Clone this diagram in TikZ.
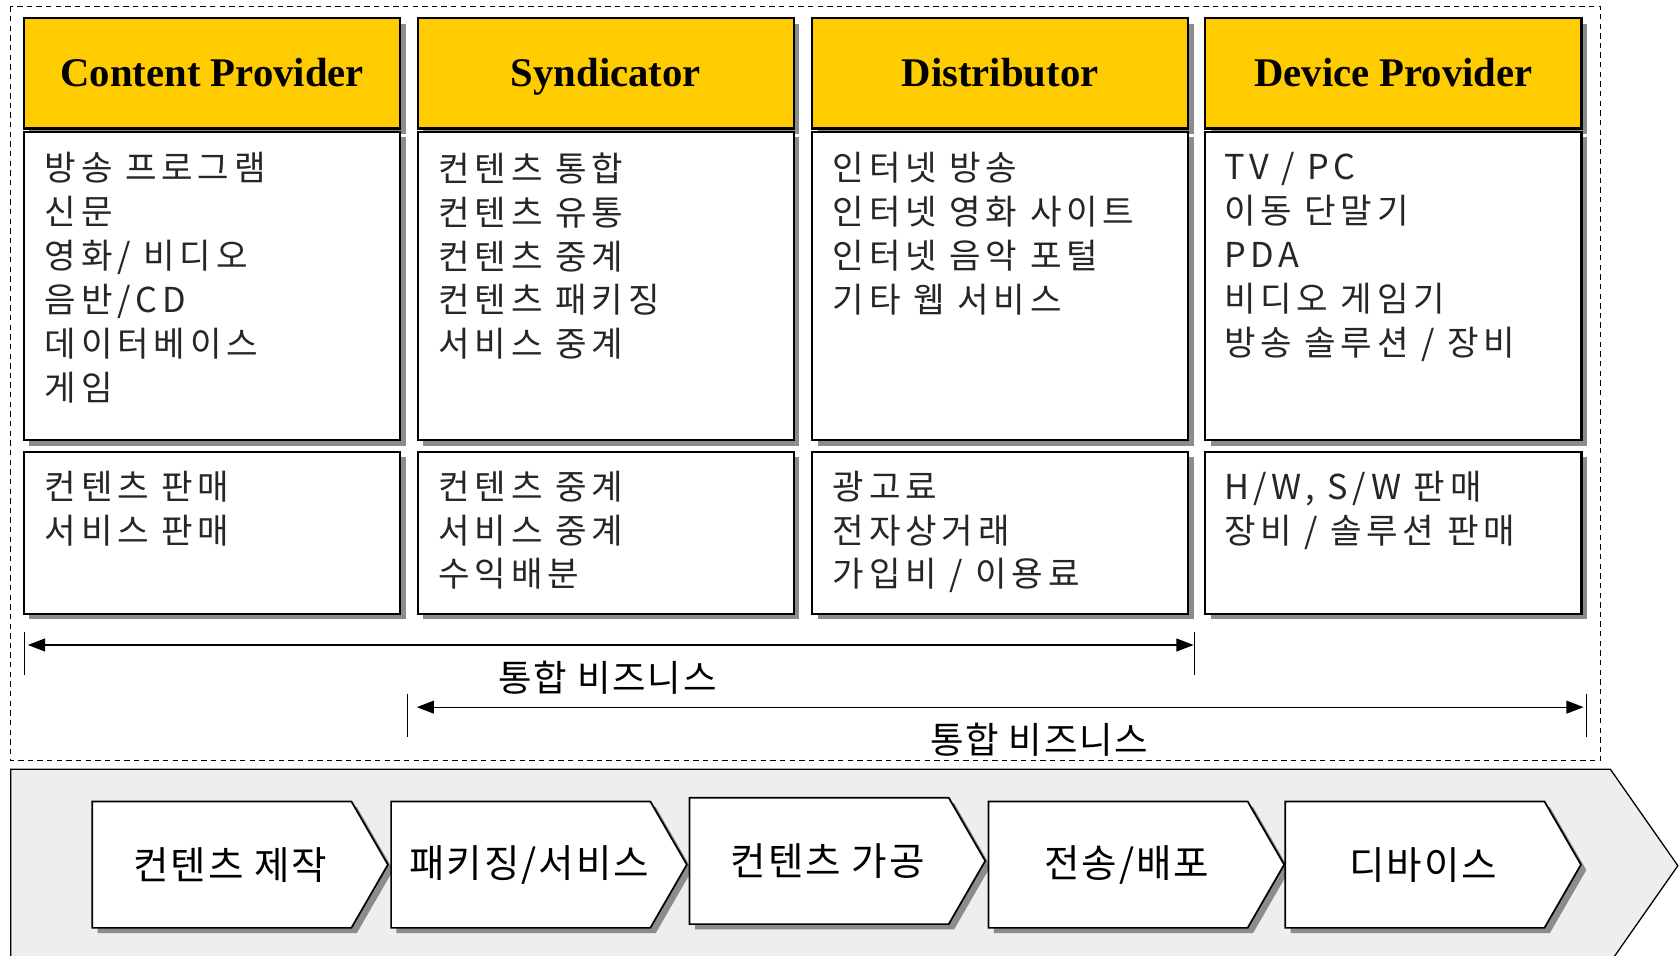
\documentclass[tikz,border=0pt]{standalone}
\usepackage{fontspec}
\newfontfamily\kr{Noto Sans CJK KR}[LetterSpace=5]
\newfontfamily\krlist{Noto Sans CJK KR}[LetterSpace=14]
\newfontfamily\headfont{Liberation Serif}
\usetikzlibrary{arrows.meta,shapes.symbols,shadows}
\definecolor{gold}{HTML}{FFCC00}
\definecolor{bandgray}{HTML}{EEEEEE}
\tikzset{%
  boxshadow/.style = {drop shadow={shadow xshift=2.5pt, shadow yshift=-2.5pt,%
                      fill=black!45, opacity=1}},%
  header/.style    = {rectangle, draw, line width=1pt, fill=gold, boxshadow,%
                      minimum width=175.5pt, minimum height=51.5pt,%
                      text height=15pt, text depth=3pt,%
                      font=\headfont\bfseries\fontsize{19}{22}\selectfont},%
  cell/.style      = {rectangle, draw, line width=1pt, fill=white, boxshadow,%
                      minimum width=175.5pt},%
  list/.style      = {anchor=north west, inner sep=0pt, align=left, text=black!85,%
                      font=\krlist\fontsize{16}{20.5}\selectfont},%
  stage/.style     = {signal, signal to=east, signal pointer angle=120, draw,%
                      line width=0.8pt, fill=white, boxshadow, inner xsep=0.5pt,%
                      minimum width=138pt, minimum height=59pt,%
                      execute at begin node=\hspace*{8pt},%
                      font=\kr\fontsize{18}{20}\selectfont},%
  span/.style      = {line width=0.6pt,%
                      {Triangle[length=8pt,width=6pt]}-{Triangle[length=8pt,width=6pt]}},%
  tick/.style      = {line width=0.6pt},%
  spanlabel/.style = {font=\kr\fontsize{17}{20}\selectfont}%
}
\begin{document}
\begin{tikzpicture}[x=0.5pt, y=-0.5pt]
  \useasboundingbox (0,0) rectangle (1568,892);
  \clip (0,0) rectangle (1568,892);
  % value chain band
  \draw[fill=bandgray, line width=0.6pt]
    (10,718) -- (1503,718) -- (1566,808) -- (1503,898) -- (10,898) -- cycle;
  \draw[line width=0.7pt, dash pattern=on 2.5pt off 2pt] (10,6) rectangle (1494,710);
  % headers
  \node[header] (cphead)  at (198,68.5)    {Content Provider};
  \node[header] (synhead) at (565.5,68.5)  {Syndicator};
  \node[header] (dishead) at (933.5,68.5)  {Distributor};
  \node[header] (devhead) at (1300.5,68.5) {Device Provider};
  % business areas
  \node[cell, minimum height=144pt] (cpbody)  at (198,267)    {};
  \node[cell, minimum height=144pt] (synbody) at (565.5,267)  {};
  \node[cell, minimum height=144pt] (disbody) at (933.5,267)  {};
  \node[cell, minimum height=144pt] (devbody) at (1300.5,267) {};
  \node[list] (cplist)  at ([shift={(20,20)}]cpbody.north west)
    {방송 프로그램\\신문\\영화/ 비디오\\음반/CD\\데이터베이스\\게임};
  \node[list] (synlist) at ([shift={(20,20)}]synbody.north west)
    {컨텐츠 통합\\컨텐츠 유통\\컨텐츠 중계\\컨텐츠 패키징\\서비스 중계};
  \node[list] (dislist) at ([shift={(20,20)}]disbody.north west)
    {인터넷 방송\\인터넷 영화 사이트\\인터넷 음악 포털\\기타 웹 서비스};
  \node[list] (devlist) at ([shift={(18,20)}]devbody.north west)
    {TV / PC\\이동 단말기\\PDA\\비디오 게임기\\방송 솔루션 / 장비};
  % revenue
  \node[cell, minimum height=75.5pt] (cpsale)  at (198,497.5)    {};
  \node[cell, minimum height=75.5pt] (synsale) at (565.5,497.5)  {};
  \node[cell, minimum height=75.5pt] (dissale) at (933.5,497.5)  {};
  \node[cell, minimum height=75.5pt] (devsale) at (1300.5,497.5) {};
  \node[list] (cpincome)  at ([shift={(20,18)}]cpsale.north west)
    {컨텐츠 판매\\서비스 판매};
  \node[list] (synincome) at ([shift={(20,18)}]synsale.north west)
    {컨텐츠 중계\\서비스 중계\\수익배분};
  \node[list] (disincome) at ([shift={(20,18)}]dissale.north west)
    {광고료\\전자상거래\\가입비 / 이용료};
  \node[list] (devincome) at ([shift={(18,18)}]devsale.north west)
    {H/W, S/W 판매\\장비 / 솔루션 판매};
  % integrated business spans
  \coordinate (spanAl) at (23,602);
  \coordinate (spanAr) at (1115,602);
  \coordinate (spanBl) at (380,660);
  \coordinate (spanBr) at (1481,660);
  \draw[tick] (spanAl) ++(0,-12) -- ++(0,40);
  \draw[tick] (spanAr) ++(0,-12) -- ++(0,40);
  \draw[tick] (spanBl) ++(0,-12) -- ++(0,40);
  \draw[tick] (spanBr) ++(0,-12) -- ++(0,40);
  \draw[span, shorten <=1.5pt, shorten >=0.5pt] (spanAl) -- (spanAr);
  \draw[span, shorten <=4.5pt, shorten >=1.5pt] (spanBl) -- (spanBr);
  \node[spanlabel] (spanAtext) at (567,633) {통합 비즈니스};
  \node[spanlabel] (spanBtext) at (970,690) {통합 비즈니스};
  % value chain stages
  \node[stage] (make)    at (207,807)    {컨텐츠 제작};
  \node[stage] (pack)    at (486,807)    {패키징/서비스};
  \node[stage] (process) at (764.5,803.5) {컨텐츠 가공};
  \node[stage] (deliver) at (1043.5,807) {전송/배포};
  \node[stage] (device)  at (1320.5,807) {디바이스};
\end{tikzpicture}
\end{document}
